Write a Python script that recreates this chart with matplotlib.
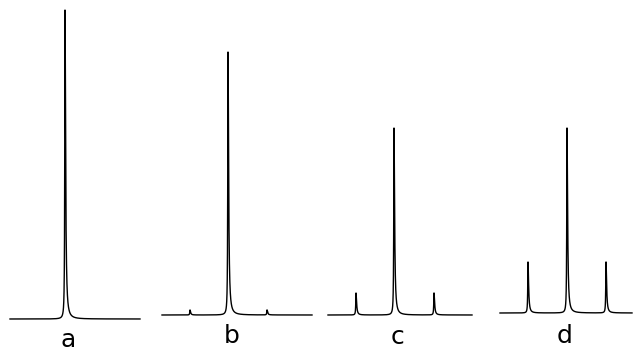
import numpy as np
import matplotlib.pyplot as plt

# four traces a-d: one strong central line plus two weak satellites
labels = ["a", "b", "c", "d"]
centre_heights = [309, 263, 187, 185]
left_offsets = [-38, -38, -38, -39]
right_offsets = [39, 39, 40, 39]
side_heights = [0, 5, 22, 51]


def line_shape(x, pos, height, w_left=0.3, w_right=0.7):
    # slightly skewed lorentzian, tail on the high side like the recorder trace
    w = np.where(x < pos, w_left, w_right)
    return height * w ** 2 / ((x - pos) ** 2 + w ** 2)


def main():
    fig = plt.figure(figsize=(6.4, 3.52), dpi=100)
    W, H = 640, 352

    # panel layout in pixels: left, right, baseline, centre line, label x, label y
    layout = [
        (10, 140, 319, 65, 68, 340),
        (162, 312, 315, 228, 232, 336),
        (328, 472, 315, 394, 398, 337),
        (500, 632, 313, 567, 565, 336),
    ]

    for i, (left, right, base, centre, lx, ly) in enumerate(layout):
        ax = fig.add_axes([left / W, (H - base) / H, (right - left) / W, base / H])
        lo, hi = left - centre, right - centre
        x = np.linspace(lo, hi, 8000)
        y = line_shape(x, 0, centre_heights[i])
        if side_heights[i] > 0:
            y += line_shape(x, left_offsets[i], side_heights[i])
            y += line_shape(x, right_offsets[i], side_heights[i])
        ax.plot(x, y, color="black", lw=1.0, clip_on=False)
        ax.set_xlim(lo, hi)
        ax.set_ylim(0, base)
        ax.axis("off")
        ax.text(lx - centre, -(ly - base), labels[i], ha="center", va="center",
                fontsize=18, color="black", clip_on=False)

    fig.savefig("out.png", dpi=100)
    plt.close(fig)


if __name__ == "__main__":
    main()
